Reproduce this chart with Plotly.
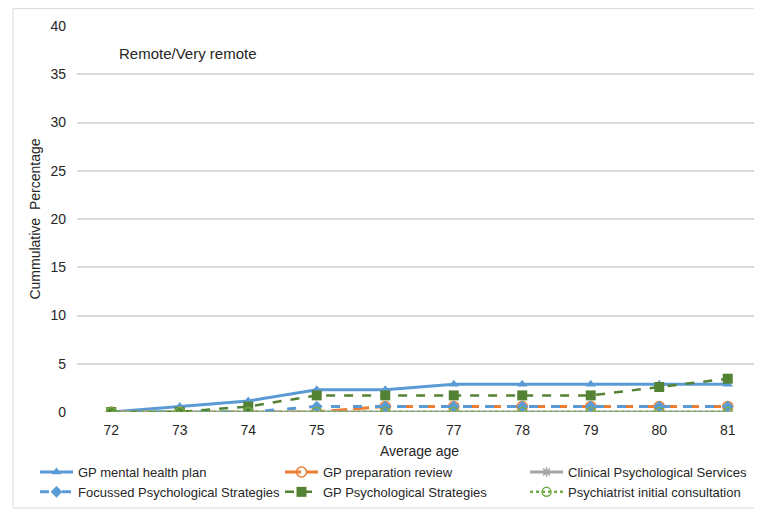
import plotly.graph_objects as go

ages = [72, 73, 74, 75, 76, 77, 78, 79, 80, 81]
gp_mental_health_plan = [0, 0.57, 1.15, 2.3, 2.3, 2.87, 2.87, 2.87, 2.87, 2.87]
gp_preparation_review = [0, 0, 0, 0, 0.57, 0.57, 0.57, 0.57, 0.57, 0.57]
clinical_psych_services = [0, 0, 0, 0, 0, 0, 0, 0, 0, 0]
focussed_psych_strategies = [0, 0, 0, 0.57, 0.57, 0.57, 0.57, 0.57, 0.57, 0.57]
gp_psych_strategies = [0, 0, 0.57, 1.72, 1.72, 1.72, 1.72, 1.72, 2.59, 3.45]
psychiatrist_initial = [0, 0, 0, 0, 0, 0, 0, 0, 0, 0]

y_ticks = [0, 5, 10, 15, 20, 25, 30, 35, 40]

FONT = "Liberation Sans, Arial, sans-serif"
TXT = "#262626"

fig = go.Figure()

def add(name, y, color, dash, width, symbol, msize, mline=None):
    fig.add_trace(go.Scatter(
        x=ages, y=y, name=name, mode="lines+markers",
        line=dict(color=color, dash=dash, width=width),
        marker=dict(symbol=symbol, size=msize, color=color,
                    line=dict(color=color, width=mline if mline else 0)),
    ))

add("GP mental health plan", gp_mental_health_plan, "#5B9BD5", "solid", 3, "triangle-up", 9)
add("GP preparation review", gp_preparation_review, "#ED7D31", "16px,6px", 3, "circle-open", 10, 1.5)
add("Clinical Psychological Services", clinical_psych_services, "#A5A5A5", "solid", 3, "asterisk-open", 8, 1.5)
add("Focussed Psychological Strategies", focussed_psych_strategies, "#5B9BD5", "9px,13px", 3, "diamond", 9)
add("GP Psychological Strategies", gp_psych_strategies, "#548235", "dash", 2.5, "square", 10)
add("Psychiatrist initial consultation", psychiatrist_initial, "#70AD47", "dot", 2.5, "circle-open", 9, 1.5)

# light outer chart border
fig.add_shape(type="rect", xref="paper", yref="paper",
              x0=-0.0934, x1=1.03, y0=-0.2487, y1=1.045,
              line=dict(color="#D9D9D9", width=1), fillcolor="rgba(0,0,0,0)", layer="below")

fig.add_annotation(text="Remote/Very remote", xref="paper", yref="paper",
                   x=0.0584, y=0.9275, xanchor="left", yanchor="middle",
                   showarrow=False, font=dict(family=FONT, size=15, color=TXT))

fig.update_layout(
    width=762, height=509,
    margin=dict(l=69, r=8, t=18, b=105),
    paper_bgcolor="white", plot_bgcolor="white",
    font=dict(family=FONT, size=13, color=TXT),
    showlegend=True,
    legend=dict(orientation="h", xref="paper", yref="paper",
                x=-0.0584, y=-0.1166, xanchor="left", yanchor="top",
                entrywidth=197, entrywidthmode="pixels",
                font=dict(family=FONT, size=13, color=TXT),
                itemwidth=33, tracegroupgap=0, bgcolor="rgba(0,0,0,0)"),
    xaxis=dict(range=[71.5, 81.5], tickvals=ages, ticktext=[str(a) for a in ages],
               showgrid=False, zeroline=False, showline=False, ticks="",
               ticklabelstandoff=8,
               title=dict(text="Average age", font=dict(size=14), standoff=9),
               tickfont=dict(size=14)),
    yaxis=dict(range=[0, 40], tickvals=y_ticks, showgrid=True, gridcolor="#D9D9D9",
               gridwidth=1.5, zeroline=False, showline=False, ticks="",
               ticklabelstandoff=10, tickfont=dict(size=14),
               title=dict(text="Cummulative  Percentage", font=dict(size=14), standoff=6)),
)

fig.write_html("out.html")
